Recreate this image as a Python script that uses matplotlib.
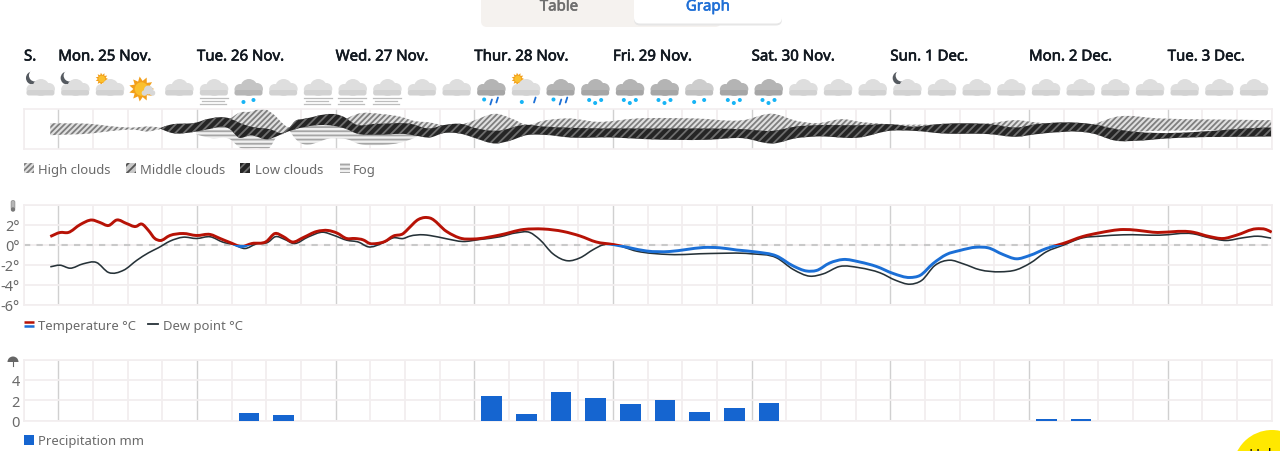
import matplotlib
matplotlib.use('Agg')
import matplotlib.pyplot as plt
import matplotlib.patheffects as pe
import numpy as np
from matplotlib.patches import Circle, FancyBboxPatch, PathPatch, Polygon, Rectangle, Wedge
from matplotlib.path import Path

plt.rcParams['font.family'] = ['Noto Sans', 'DejaVu Sans']
plt.rcParams['hatch.linewidth'] = 1.3

# hours counted from Mon. 25 Nov 00:00
day_hours = [0, 24, 48, 72, 96, 120, 144, 168, 192]
day_labels = ['Mon. 25 Nov.', 'Tue. 26 Nov.', 'Wed. 27 Nov.', 'Thur. 28 Nov.', 'Fri. 29 Nov.',
              'Sat. 30 Nov.', 'Sun. 1 Dec.', 'Mon. 2 Dec.', 'Tue. 3 Dec.']

temp_hours = [-1.4, 0.3, 1.7, 3.8, 5.8, 7.2, 8.7, 10.1, 11.8, 13.4, 14.4, 15.6, 16.7, 17.6, 19.3, 21.6, 23.9,
              26.3, 28, 29.7, 31.7, 33.5, 36, 37.5, 38.9, 40.5, 42.4, 44.7, 46.7, 48.2, 49.9, 51.3, 52.8, 53.9,
              55.1, 56.5, 58, 59.7, 60.6, 62.3, 63.4, 64.3, 67.2, 69.8, 71.8, 76.4, 80.5, 83.9, 87.4, 90.3,
              93.1, 96, 98.9, 101.8, 105.8, 108.7, 111.6, 114.5, 117.4, 120.8, 124.3, 127.2, 129.5, 131.2,
              133.5, 135.8, 138.7, 141.6, 144.5, 147.4, 149.1, 151.4, 153.7, 156, 158.9, 160.9, 163.5, 165.8,
              168.1, 171, 173.9, 177.3, 180.2, 184.3, 186.6, 189.4, 196.4, 199.2, 201.6, 203.9, 207.3, 209, 210]
temp_values = [0.8, 1.2, 1.2, 2.0, 2.45, 2.2, 1.9, 2.45, 2.1, 1.8, 2.05, 1.4, 0.6, 0.4, 0.9, 1.1, 0.9,
               1.0, 0.6, 0.2, -0.2, 0.1, 0.3, 1.1, 0.8, 0.25, 0.7, 1.3, 1.4, 1.15, 0.6, 0.6, 0.45, 0.1,
               0.1, 0.3, 0.85, 1.1, 1.6, 2.5, 2.7, 2.65, 1.3, 0.6, 0.55, 0.95, 1.5, 1.55, 1.3, 0.85,
               0.25, 0, -0.33, -0.65, -0.7, -0.5, -0.3, -0.33, -0.55, -0.75, -1.15, -2.15, -2.65, -2.6,
               -1.85, -1.5, -1.75, -2.2, -2.9, -3.3, -3.1, -1.9, -1, -0.6, -0.27, -0.33, -1, -1.43,
               -1.1, -0.4, 0.1, 0.8, 1.17, 1.5, 1.43, 1.23, 1.23, 0.8, 0.6, 0.93, 1.57, 1.5, 1.23]

dew_hours = [-1.4, 0.3, 2, 4.3, 6.6, 8.7, 11.3, 13.6, 15.6, 17.3, 19.3, 21.6, 23.9, 26.3, 28.5, 30.3, 32.3, 34.3,
             36.3, 37.5, 39.2, 40.7, 43.3, 45.8, 47.6, 49.9, 52, 53.6, 56.2, 58, 59.7, 60.8, 63.2, 64.3, 67.2,
             70, 72.9, 76.4, 79.3, 81.6, 83.3, 85.6, 88.2, 90.3, 92.6, 94.3, 96, 100.1, 105.8, 112.8, 119.9,
             124.3, 127.2, 130.1, 132.4, 135.2, 138.7, 142.2, 145, 147.4, 149.4, 151.7, 154.3, 156.6, 159.5,
             163, 165.8, 168.1, 171, 173.9, 177.3, 180.2, 184.3, 190.6, 196.4, 199.2, 202.1, 205, 207.6, 210]
dew_values = [-2.23, -2.07, -2.37, -1.93, -1.8, -2.8, -2.57, -1.57, -0.83, -0.33, 0.33, 0.73, 0.6, 0.77, 0.23, 0,
              -0.4, 0.07, 0.23, 0.77, 0.5, 0.1, 0.77, 1.23, 0.93, 0.43, 0.23, -0.23, 0.17, 0.67, 0.6, 0.83, 0.97,
              0.9, 0.57, 0.3, 0.5, 0.77, 1.17, 1.2, 0.5, -0.93, -1.63, -1.33, -0.5, -0.03, 0, -0.67, -1, -0.9,
              -0.93, -1.33, -2.5, -3.17, -2.93, -2.2, -2.33, -2.83, -3.6, -3.97, -3.6, -2.1, -1.57, -1.93,
              -2.53, -2.73, -2.53, -1.9, -0.73, -0.07, 0.67, 0.83, 0.97, 0.93, 1.07, 0.67, 0.4, 0.67, 0.83, 0.63]

precip_hours = [33, 39, 75, 81, 87, 93, 99, 105, 111, 117, 123, 171, 177]
precip_values = [0.7, 0.5, 2.4, 0.6, 2.8, 2.2, 1.6, 2.0, 0.8, 1.2, 1.7, 0.15, 0.15]

# cloud bands, y is the height in the strip (0 to 40)
thin_hours = [-1.4, 6.1, 9.5, 13.3, 15.3, 17.6]
thin_top = [25.3, 24.3, 22, 21, 22, 21]
thin_bottom = [13.3, 15.3, 17.7, 18.7, 17, 19.3]

high_hours_a = [25.7, 29.7, 31.4, 33.2, 35.5, 37.2, 39.5, 41]
high_top_a = [28, 30, 36, 36.7, 40, 34.3, 22, 20]
high_hours_b = [49.9, 51.6, 56.2, 59.7, 61.4, 64.3, 66.6, 70, 71.8, 75.8, 78.7, 81, 83.9, 88.5, 93.1, 100.1, 110.4,
                118.5, 123.7, 127.7, 131.2, 135.8, 138.7, 143.9, 153, 161.2, 165.8, 169.3, 179, 183.1, 190.6, 210]
high_top_b = [30, 34.3, 34.3, 31, 27.7, 26, 23.3, 24.3, 27.7, 34.7, 29.3, 23.7, 27.7, 30, 26.7, 30, 30,
              28.3, 34.7, 27.7, 25.3, 29.3, 26.7, 24.3, 24, 25.3, 28.3, 26, 24.3, 31.7, 30, 28.3]

low_top_hours = [17.6, 19.3, 23.9, 25.7, 29.7, 31.2, 33.2, 36.6, 38.9, 40, 41, 42.5, 49.9, 51, 55.1, 60.9, 64.3, 66.6, 70,
                 71.8, 75.8, 81, 83.9, 87.4, 104.7, 112.2, 118.5, 123.7, 127.7, 131.2, 138.7, 143.9, 147.9, 153.1,
                 161.2, 165.8, 169.3, 179, 183.1, 210]
low_top = [20.5, 23.7, 26, 29.3, 30, 26, 22, 19.3, 16, 21, 27.5, 29.5, 30, 25.3, 24.7, 24.7, 20, 23.3, 24.3,
           21, 17.7, 23.7, 22, 21, 20, 20, 19.3, 17.7, 22, 23.3, 23.3, 24.3, 22, 24.7,
           24.3, 21, 24.3, 24.3, 19.3, 21]
low_bottom_hours = [17.6, 19.3, 23.9, 25.7, 29.7, 31.2, 33.2, 36.3, 38, 38.9, 40.7, 49.9, 51.6, 55.1, 60.3, 62, 64.3,
                    66.6, 70, 71.8, 75.8, 78.1, 81, 83.9, 88.5, 96, 101.8, 112.2, 118.5, 123.7, 127.7, 131.2, 138.7,
                    143.9, 147.9, 153.1, 161.2, 165.8, 169.3, 179, 183.1, 186.6, 191.8, 210]
low_bottom = [20, 16, 17, 19, 19.3, 11, 13.3, 9.3, 12.7, 15, 18.7, 19.3, 15, 13.7, 14.3, 12.7, 11,
              15.3, 14.3, 11, 5, 7.7, 13.3, 13.7, 11, 11, 9.3, 8.7, 10.3, 5, 10.3, 12, 11,
              17.7, 17.7, 15, 14.3, 11.7, 14.3, 15, 7.7, 7.7, 10, 12]

fog_hours_a = [23.9, 26.5, 29.7, 31.4, 34.3, 36.6, 37.8, 38.9]
fog_bottom_a = [14, 10.3, 9.3, 1, 0.3, 1, 12, 15]
fog_hours_b = [40, 40.7, 47.6, 49.9, 52.2, 55.1, 60.3, 62, 63]
fog_bottom_b = [18, 12, 10.3, 9.3, 4.3, 3.3, 7.7, 11.7, 15]

# one symbol for every 6 hours, first one at hour -3
icon_clouds = ['moon', 'moon', 'sun', 'bigsun', '', 'fog', 'f2', '', 'fog', 'fog', 'fog', '', '', 'd', 'ds', 'd',
               'k', 'k', 'k', 'f2l', 'k', 'k', '', '', '', 'moon', '', '', '', '', '', '', '', '', '', '']

GRID_LIGHT = '#f2eeef'
GRID_DAY = '#d0d0d0'
TXT = '#6a6a6a'
RED = '#b71206'
BLUE = '#1b6fd6'
DARK = '#263238'
BAR = '#1565d0'

W, H = 1280, 452
fig = plt.figure(figsize=(W / 100, H / 100), dpi=100, facecolor='white')


def make_axes(top, bottom):
    ax = fig.add_axes([23.7 / W, 1 - bottom / H, 1248 / W, (bottom - top) / H])
    ax.set_xlim(-6, 210)
    for s in ax.spines.values():
        s.set_color(GRID_LIGHT)
        s.set_linewidth(1.2)
    ax.set_xticks(day_hours)
    ax.set_xticks(np.arange(-6, 211, 6), minor=True)
    ax.xaxis.grid(True, which='minor', color=GRID_LIGHT, lw=1.3)
    ax.xaxis.grid(True, which='major', color=GRID_DAY, lw=1.0)
    ax.yaxis.grid(True, color=GRID_LIGHT, lw=1.3)
    ax.set_axisbelow(True)
    ax.tick_params(which='both', length=0, labelbottom=False)
    ax.tick_params(axis='y', labelsize=10.5, labelcolor=TXT, pad=3)
    return ax


def curve(xs, ys, first=True):
    # smooth bezier through the points
    xs = np.array(xs, float)
    ys = np.array(ys, float)
    m = np.gradient(ys, xs)
    verts = [(xs[0], ys[0])]
    codes = [Path.MOVETO if first else Path.LINETO]
    for i in range(len(xs) - 1):
        dx = xs[i + 1] - xs[i]
        verts += [(xs[i] + dx / 3, ys[i] + m[i] * dx / 3),
                  (xs[i + 1] - dx / 3, ys[i + 1] - m[i + 1] * dx / 3),
                  (xs[i + 1], ys[i + 1])]
        codes += [Path.CURVE4] * 3
    return verts, codes


def band(ax, x1, top, x2, bottom, **kw):
    v1, c1 = curve(x1, top)
    v2, c2 = curve(x2[::-1], list(bottom)[::-1], first=False)
    verts = v1 + v2 + [v1[0]]
    codes = c1 + c2 + [Path.CLOSEPOLY]
    ax.add_patch(PathPatch(Path(verts, codes), lw=0, **kw))


def under_low(hours):
    # lower edge of a layer that goes on behind the low clouds
    return np.interp(hours, low_top_hours, low_top) - 2


HIGH = dict(facecolor='#e0e0e0', edgecolor='#7f7f7f', hatch='//////')
LOW = dict(facecolor='#252525', edgecolor='#6e6e6e', hatch='////')
FOG = dict(facecolor='#f0f0f0', edgecolor='#a6a6a6', hatch='----')

# cloud strip
ax_c = make_axes(109.5, 149.5)
ax_c.set_ylim(0, 40)
ax_c.set_yticks([])
band(ax_c, fog_hours_a, under_low(fog_hours_a), fog_hours_a, fog_bottom_a, **FOG)
band(ax_c, fog_hours_b, under_low(fog_hours_b), fog_hours_b, fog_bottom_b, **FOG)
band(ax_c, thin_hours, thin_top, thin_hours, thin_bottom, **HIGH)
band(ax_c, high_hours_a, high_top_a, high_hours_a, under_low(high_hours_a), **HIGH)
band(ax_c, high_hours_b, high_top_b, high_hours_b, under_low(high_hours_b), **HIGH)
band(ax_c, low_top_hours, low_top, low_bottom_hours, low_bottom, **LOW)

# temperature
ax_t = make_axes(205.5, 305.5)
ax_t.set_ylim(-6, 4)
ax_t.set_yticks([-6, -4, -2, 0, 2, 4], ['-6°', '-4°', '-2°', '0°', '2°', ''])
ax_t.axhline(0, color='#c9c9c9', lw=1.5, dashes=(3, 3), zorder=1.5)
v, c = curve(dew_hours, dew_values)
ax_t.add_patch(PathPatch(Path(v, c), fill=False, edgecolor=DARK, lw=1.15, zorder=2))
v, c = curve(temp_hours, temp_values)
for col, rect in ((RED, (-6, 0, 216, 4)), (BLUE, (-6, -6, 216, 6))):
    p = PathPatch(Path(v, c), fill=False, edgecolor=col, lw=2.1, zorder=3)
    ax_t.add_patch(p)
    p.set_clip_path(Rectangle(rect[:2], rect[2], rect[3], transform=ax_t.transData))

# precipitation
ax_p = make_axes(360.5, 421.5)
ax_p.set_ylim(0, 6)
ax_p.set_yticks([0, 2, 4, 6], ['0', '2', '4', ''])
ax_p.bar(precip_hours, precip_values, width=3.6, color=BAR, zorder=3)

# everything outside the plots, in pixels
ov = fig.add_axes([0, 0, 1, 1], zorder=5)
ov.set_xlim(0, W)
ov.set_ylim(H, 0)
ov.axis('off')
ov.patch.set_alpha(0)


def hour_px(h):
    return 58.3 + h * 5.778


def cloud(cx, color, shade):
    cy = 89
    ov.add_patch(Circle((cx + 0.5, cy - 0.5), 8.5, color=color, lw=0))
    ov.add_patch(Circle((cx - 8.5, cy + 1.5), 5.5, color=color, lw=0))
    ov.add_patch(Circle((cx + 8.5, cy + 1), 6, color=color, lw=0))
    ov.add_patch(FancyBboxPatch((cx - 14, cy + 2), 28, 5.5, boxstyle='round,pad=0,rounding_size=2.5', color=shade, lw=0))


def moon(cx):
    ov.add_patch(Circle((cx - 8, 79), 6.5, color='#555a60', lw=0))
    ov.add_patch(Circle((cx - 5.5, 76.5), 6, color='white', lw=0))


def sun(cx, cy, r):
    a = np.linspace(0, 2 * np.pi, 22, endpoint=False)
    rad = np.where(np.arange(22) % 2 == 0, r * 1.4, r * 0.9)
    ov.add_patch(Polygon(np.c_[cx + rad * np.cos(a), cy + rad * np.sin(a)], color='#f29f1a', lw=0))
    ov.add_patch(Circle((cx, cy), r * 0.75, color='#fbc02d', lw=0))


def flake(x, y):
    ov.add_patch(Circle((x, y), 2.0, color='#18b4f5', lw=0))


def drop(x, y):
    ov.plot([x - 0.8, x + 0.8], [y + 2.5, y - 2.5], color='#1b6fd6', lw=1.3, solid_capstyle='round')


for i, kind in enumerate(icon_clouds):
    cx = hour_px(-3 + 6 * i) - 0.5
    if kind == 'moon':
        moon(cx)
    if kind == 'sun' or kind == 'ds':
        sun(cx - 8, 80, 4.5)
    if kind == 'bigsun':
        sun(cx - 3, 90, 9)
        ov.add_patch(Circle((cx + 4, 91), 4.5, color='#d8d8d8', lw=0))
        ov.add_patch(Circle((cx, 94), 2.8, color='#d8d8d8', lw=0))
        ov.add_patch(Circle((cx + 8, 94), 2.8, color='#d8d8d8', lw=0))
        continue
    if kind in ('d', 'k'):
        cloud(cx, '#b4b4b4', '#a6a6a6')
    elif kind == 'f2':
        cloud(cx, '#c4c4c4', '#b6b6b6')
    elif kind == 'f2l':
        cloud(cx, '#cdcdcd', '#c0c0c0')
    else:
        cloud(cx, '#dedede', '#d2d2d2')
    if kind == 'fog':
        for fy, x0, x1 in ((98.5, -14, 14), (101.5, -12, 10), (104.5, -14, 12)):
            ov.plot([cx + x0, cx + x1], [fy, fy], color='#bdbdbd', lw=0.9)
    if kind in ('f2', 'f2l'):
        flake(cx - 5, 103)
        flake(cx + 5, 101)
    if kind == 'k':
        flake(cx - 6, 101)
        flake(cx, 104)
        flake(cx + 6, 101)
    if kind == 'd':
        flake(cx - 7, 100.5)
        drop(cx, 103)
        drop(cx + 6, 101)
    if kind == 'ds':
        flake(cx - 4, 103)
        drop(cx + 9, 101)

# day headers, the little stroke gives them the medium weight
medium = [pe.withStroke(linewidth=0.45, foreground='#111820')]
ov.text(24, 58, 'S.', fontsize=10.8, color='#111820', va='center', path_effects=medium)
for h, lab in zip(day_hours, day_labels):
    ov.text(hour_px(h), 58, lab, fontsize=10.8, color='#111820', va='center', path_effects=medium)

# Table / Graph switch
ov.add_patch(FancyBboxPatch((481, -12), 240, 40, boxstyle='round,pad=0,rounding_size=6', fc='#f5f2ef', ec='none'))
ov.add_patch(FancyBboxPatch((634, -12), 148, 38.5, boxstyle='round,pad=0,rounding_size=6', fc='#e6e6e6', ec='none'))
ov.add_patch(FancyBboxPatch((634, -12), 148, 36.5, boxstyle='round,pad=0,rounding_size=6', fc='white', ec='none'))
ov.text(559, 8, 'Table', fontsize=10.8, color='#6e6e6e', ha='center', va='center',
        path_effects=[pe.withStroke(linewidth=0.4, foreground='#6e6e6e')])
ov.text(708, 8, 'Graph', fontsize=10.8, color='#1f6fd6', ha='center', va='center',
        path_effects=[pe.withStroke(linewidth=0.4, foreground='#1f6fd6')])


def legend_text(x, y, s):
    ov.text(x, y + 1.3, s, fontsize=9.4, color=TXT, va='center')


# cloud legend
for x, s, tx, st in ((24, 'High clouds', 38, HIGH), (126, 'Middle clouds', 140, dict(facecolor='#c8c8c8', edgecolor='#555555', hatch='////')),
                     (240, 'Low clouds', 255, LOW), (340, 'Fog', 353, FOG)):
    ov.add_patch(Rectangle((x, 164), 10, 10, lw=0, **st))
    legend_text(tx, 169, s)

# temperature legend
ov.plot([24, 34], [322.7, 322.7], color=RED, lw=1.8, solid_capstyle='butt')
ov.plot([24, 34], [327.3, 327.3], color=BLUE, lw=1.8, solid_capstyle='butt')
legend_text(38, 325, 'Temperature °C')
ov.plot([148, 158], [325, 325], color=DARK, lw=1.3)
legend_text(163, 325, 'Dew point °C')

# precipitation legend
ov.add_patch(Rectangle((24, 436), 10, 9.5, color=BAR, lw=0))
legend_text(38, 440.5, 'Precipitation mm')

# thermometer and umbrella
ov.add_patch(FancyBboxPatch((11.5, 202), 3, 8, boxstyle='round,pad=0.4,rounding_size=1.5', fc='#b5b5b5', ec='#888888', lw=0.5))
ov.add_patch(Circle((13, 210.5), 2.2, color='#777777', lw=0))
ov.add_patch(Wedge((13, 363), 5.5, 180, 360, color='#666666', lw=0))
ov.plot([13, 13], [363, 367], color='#666666', lw=0.8)

# help bubble cut by the page edge
ov.add_patch(Circle((1272, 470), 39, color='#ffe800', lw=0))
ov.text(1248, 456, 'Help', fontsize=10.8, color='#111111', va='center')

fig.savefig('out.png', dpi=100, facecolor='white')
